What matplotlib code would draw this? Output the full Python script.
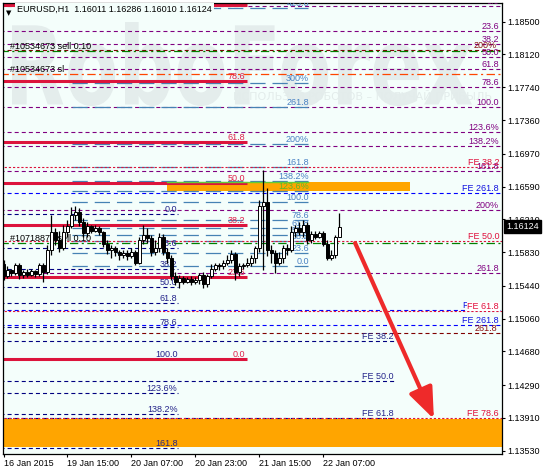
import matplotlib
matplotlib.use("Agg")
import matplotlib.pyplot as plt
import numpy as np
from matplotlib.patches import Rectangle, PathPatch
from matplotlib.textpath import TextPath
from matplotlib.font_manager import FontProperties
from matplotlib.transforms import Affine2D, IdentityTransform, blended_transform_factory

plt.rcParams['font.family'] = ['Liberation Sans', 'DejaVu Sans']
plt.rcParams['lines.scale_dashes'] = False

# EURUSD H1 candles (bar index 0 = 16 Jan 2015 ...)
opens = [1.1569, 1.1555, 1.1562, 1.1559, 1.1568, 1.1556, 1.1560, 1.1556, 1.1561, 1.1558,
         1.1568, 1.1560, 1.1585, 1.1606, 1.1597, 1.1588, 1.1606, 1.1613, 1.1626, 1.1629,
         1.1618, 1.1605, 1.1613, 1.1608, 1.1611, 1.1606, 1.1592, 1.1585, 1.1588, 1.1583,
         1.1580, 1.1582, 1.1578, 1.1583, 1.1571, 1.1597, 1.1603, 1.1599, 1.1583, 1.1588,
         1.1601, 1.1583, 1.1576, 1.1555, 1.1549, 1.1553, 1.1549, 1.1552, 1.1548, 1.1551,
         1.1556, 1.1546, 1.1555, 1.1564, 1.1568, 1.1567, 1.1571, 1.1574, 1.1581, 1.1560,
         1.1567, 1.1568, 1.1571, 1.1576, 1.1588, 1.1637, 1.1641, 1.1585, 1.1582, 1.1571,
         1.1576, 1.1588, 1.1585, 1.1606, 1.1611, 1.1606, 1.1614, 1.1597, 1.1604, 1.1601,
         1.1605, 1.1593, 1.1576, 1.1580, 1.16011]
highs = [1.1574, 1.1567, 1.1564, 1.1571, 1.1570, 1.1562, 1.1563, 1.1564, 1.1562, 1.1571,
         1.1571, 1.1591, 1.1626, 1.1611, 1.1608, 1.1614, 1.1620, 1.1635, 1.1637, 1.1634,
         1.1622, 1.1618, 1.1615, 1.1614, 1.1613, 1.1608, 1.1597, 1.1591, 1.1590, 1.1585,
         1.1585, 1.1585, 1.1588, 1.1585, 1.1601, 1.1614, 1.1611, 1.1603, 1.1597, 1.1605,
         1.1604, 1.1588, 1.1580, 1.1560, 1.1556, 1.1555, 1.1554, 1.1555, 1.1554, 1.1559,
         1.1560, 1.1558, 1.1569, 1.1571, 1.1571, 1.1574, 1.1580, 1.1585, 1.1583, 1.1571,
         1.1571, 1.1576, 1.1580, 1.1590, 1.1643, 1.1678, 1.1657, 1.1591, 1.1585, 1.1583,
         1.1591, 1.1592, 1.1613, 1.1615, 1.1618, 1.1620, 1.1618, 1.1608, 1.1607, 1.1608,
         1.1607, 1.1597, 1.1585, 1.1603, 1.16286]
lows = [1.1551, 1.1553, 1.1555, 1.1556, 1.1552, 1.1553, 1.1554, 1.1555, 1.1554, 1.1555,
        1.1549, 1.1558, 1.1580, 1.1591, 1.1583, 1.1585, 1.1601, 1.1611, 1.1620, 1.1613,
        1.1601, 1.1601, 1.1605, 1.1606, 1.1603, 1.1589, 1.1581, 1.1576, 1.1578, 1.1574,
        1.1576, 1.1574, 1.1576, 1.1568, 1.1569, 1.1592, 1.1594, 1.1578, 1.1580, 1.1583,
        1.1580, 1.1571, 1.1551, 1.1545, 1.1541, 1.1546, 1.1547, 1.1545, 1.1546, 1.1546,
        1.1541, 1.1543, 1.1553, 1.1561, 1.1562, 1.1563, 1.1568, 1.1571, 1.1551, 1.1555,
        1.1564, 1.1566, 1.1567, 1.1571, 1.1583, 1.1562, 1.1578, 1.1571, 1.1559, 1.1568,
        1.1571, 1.1580, 1.1583, 1.1601, 1.1603, 1.1601, 1.1593, 1.1594, 1.1598, 1.1599,
        1.1590, 1.1574, 1.1574, 1.1576, 1.16010]
closes = [1.1555, 1.1562, 1.1559, 1.1568, 1.1556, 1.1560, 1.1556, 1.1561, 1.1558, 1.1568,
          1.1560, 1.1585, 1.1606, 1.1597, 1.1588, 1.1606, 1.1613, 1.1626, 1.1629, 1.1618,
          1.1605, 1.1613, 1.1608, 1.1611, 1.1606, 1.1592, 1.1585, 1.1588, 1.1583, 1.1580,
          1.1582, 1.1578, 1.1583, 1.1571, 1.1597, 1.1603, 1.1599, 1.1583, 1.1588, 1.1601,
          1.1583, 1.1576, 1.1555, 1.1549, 1.1553, 1.1549, 1.1552, 1.1548, 1.1551, 1.1556,
          1.1546, 1.1555, 1.1564, 1.1568, 1.1567, 1.1571, 1.1574, 1.1581, 1.1560, 1.1567,
          1.1568, 1.1571, 1.1576, 1.1588, 1.1637, 1.1641, 1.1585, 1.1582, 1.1571, 1.1576,
          1.1588, 1.1585, 1.1606, 1.1611, 1.1606, 1.1614, 1.1597, 1.1604, 1.1601, 1.1605,
          1.1593, 1.1576, 1.1580, 1.16011, 1.16124]

tick_bars = [0, 16, 32, 48, 64, 80]
tick_times = ["16 Jan 2015", "19 Jan 15:00", "20 Jan 07:00", "20 Jan 23:00",
              "21 Jan 15:00", "22 Jan 07:00"]
price_ticks = [1.18500, 1.18120, 1.17740, 1.17360, 1.16970, 1.16590, 1.16210,
               1.15830, 1.15440, 1.15060, 1.14680, 1.14290, 1.13910, 1.13530]

# Fibonacci objects: level prices and their labels
purple_prices = [1.18682, 1.18392, 1.18241, 1.18091, 1.17952, 1.17743, 1.17511,
                 1.17222, 1.17060, 1.16770, 1.16318, 1.15588]
purple_names = ["0.0", "23.6", "38.2", "50.0", "61.8", "78.6", "100.0",
                "123.6%", "138.2%", "161.8", "200%", "261.8"]
steel_prices = [1.15670, 1.15820, 1.15959, 1.16029, 1.16110, 1.16202, 1.16411,
                1.16538, 1.16654, 1.16816, 1.17083, 1.17511, 1.17790, 1.18659]
steel_names = ["0.0", "23.6", "38.2", "50.0", "61.8", "78.6", "100.0",
               "", "138.2%", "161.8", "200%", "261.8", "300%", "423.6"]
red_prices = [1.14592, 1.15542, 1.16145, 1.16631, 1.17106, 1.17813, 1.18693]
red_names = ["0.0", "23.6", "38.2", "50.0", "61.8", "78.6", "100.0"]
navy_prices = [1.16272, 1.15878, 1.15635, 1.15426, 1.15241, 1.14963, 1.14592,
               1.14198, 1.13955, 1.13561]
navy_names = ["0.0", "23.6", "38.2", "50.0", "61.8", "78.6", "100.0",
              "123.6%", "138.2%", "161.8"]
fe_red_prices = [1.16816, 1.15959, 1.15148, 1.13909]
fe_red_names = ["FE 38.2", "FE 50.0", "FE 61.8", "FE 78.6"]
fe_navy_prices = [1.14800, 1.14337, 1.13909]
fe_navy_names = ["FE 38.2", "FE 50.0", "FE 61.8"]
fe_blue_prices = [1.16515, 1.15160, 1.14986]
fe_blue_names = ["FE 261.8", "FE 200.0", "FE 261.8"]
maroon_prices = [1.18172, 1.14893]
maroon_names = ["200%", "261.8"]
green_price = 1.16643
green_name = "123.6%"

orders = [("#10534673 sell 0.10", 1.18160, '#008000'),
          ("#10534673 sl", 1.17894, '#FF4500'),
          ("#10718875 sell 0.10", 1.15936, '#008000')]

zone_upper = (1.16538, 1.16643)
zone_lower = (1.13573, 1.13897)
arrow_from = (87.9, 1.15936)
arrow_to = (107.6, 1.13897)
last_price = 1.16124

BG = '#F4FEFB'
FS = 6.5

fig = plt.figure(figsize=(5.44, 4.72), dpi=100, facecolor='white')
ax = fig.add_axes([3 / 544, 18 / 472, 499 / 544, 451 / 472])
ax.set_facecolor(BG)

# watermark
fp = FontProperties(family='DejaVu Sans', weight='bold')
tp = TextPath((0, 0), "RoboForex", size=100, prop=fp)
ext = tp.get_extents()
wm = (Affine2D().translate(-ext.x0, -ext.y0)
      .scale(460 / ext.width, 84 / ext.height).translate(12, 472 - 106))
ax.add_patch(PathPatch(tp, transform=wm + IdentityTransform(), facecolor='#E4EDEC',
                       edgecolor='none', zorder=0.3))
ax.text(0.46, 0.785, "ИСПОЛЬЗУЙ РОБОТОВ – ПОЛУЧАЙ ПРИБЫЛЬ", transform=ax.transAxes,
        color='#E3ECEB', fontsize=8, family=['DejaVu Sans'], zorder=0.3)

# orange zones
ax.add_patch(Rectangle((40.9, zone_upper[0]), 101.6 - 40.9, zone_upper[1] - zone_upper[0],
                       facecolor='#FFA500', edgecolor='none', zorder=1))
ax.add_patch(Rectangle((-1, zone_lower[0]), 130, zone_lower[1] - zone_lower[0],
                       facecolor='#FFA500', edgecolor='none', zorder=1))


def levels(prices, names, x0, x1, color, ls, lw, lx, tcolor=None, ha='right', z=2):
    for p, n in zip(prices, names):
        ax.plot([x0, x1], [p, p], color=color, ls=ls, lw=lw, zorder=z,
                solid_capstyle='butt')
        if n:
            ax.text(lx, p, n, color=tcolor or color, ha=ha, va='bottom', fontsize=FS,
                    clip_on=True, zorder=3)


dash = (0, (2.9, 2.2))
levels(purple_prices, purple_names, -1, 130, '#800080', dash, 0.8, 123.9)
levels(maroon_prices, maroon_names, -1, 130, '#800000', dash, 0.8, 123.3, '#8B1010')
levels(fe_blue_prices[:1] + fe_blue_prices[2:], fe_blue_names[:1] + fe_blue_names[2:],
       -1, 130, '#0000FF', dash, 0.8, 123.9, '#1010E0')
ax.text(123.9, fe_blue_prices[1], fe_blue_names[1], color='#1010E0', ha='right',
        va='bottom', fontsize=FS, zorder=3)
ax.plot([-1, 130], [fe_blue_prices[1]] * 2, color='#0000FF', ls=dash, lw=0.8, zorder=2)
levels(fe_navy_prices, fe_navy_names, -1, 97.9, '#000080', dash, 0.8, 97.6, '#24248A')
levels(navy_prices, navy_names, -1, 43.6, '#000080', dash, 0.8, 43.5, '#24248A')
for p, n in zip(fe_red_prices, fe_red_names):
    ax.plot([-1, 130], [p, p], color='#DC143C', ls=(0, (1.6, 1.4)), lw=0.8, zorder=2.1)
    ax.text(123.9, p, n, color='#E0103C', ha='right', va='bottom', fontsize=FS, zorder=3.2,
            bbox=dict(facecolor='white', edgecolor='none', pad=0.3) if n == "FE 61.8" else None)
levels(steel_prices, steel_names, 17.1, 76.2, '#4682B4', (0, (11, 5)), 0.9, 76.4, '#4A82C4')
levels(red_prices, red_names, -1, 60.9, '#DC143C', '-', 2.2, 60.4, '#E0204A')
ax.plot([40.9, 76.2], [green_price] * 2, color='#66CC33', lw=1.0, zorder=2.2)
ax.text(76.4, green_price, green_name, color='#5CB82A', ha='right', va='top',
        fontsize=FS, zorder=3)

for name, p, col in orders:
    ax.plot([-1, 130], [p, p], color=col, ls=(0, (6, 2.5, 1.5, 2.5)), lw=0.9, zorder=2)
    ax.text(1.6, p, name, color='black', ha='left', va='bottom', fontsize=FS, zorder=3)

# candles
idx = np.arange(len(opens))
o = np.array(opens)
c = np.array(closes)
ax.vlines(idx, lows, highs, color='black', lw=0.9, zorder=5)
ax.bar(idx, np.maximum(np.abs(c - o), 0.00002), bottom=np.minimum(o, c), width=0.7,
       color=np.where(c >= o, 'white', 'black'), edgecolor='black', linewidth=0.7, zorder=6)

# forecast arrow
ax.annotate("", xy=arrow_to, xytext=arrow_from, zorder=7,
            arrowprops=dict(arrowstyle='-|>,head_length=1.9,head_width=0.75',
                            color='#EE2A2A', lw=3, shrinkA=0, shrinkB=0))

# header
ax.text(0.006, 0.985, "▼", transform=ax.transAxes, fontsize=5, va='top', ha='left',
        family=['DejaVu Sans'], zorder=8)
ax.text(0.029, 0.996, "EURUSD,H1  1.16011 1.16286 1.16010 1.16124", transform=ax.transAxes,
        fontsize=FS, va='top', ha='left', zorder=8,
        bbox=dict(facecolor=BG, edgecolor='none', pad=1.6))

# current price box
ax.text(1.0 + 4 / 499, last_price, f"{last_price:.5f}",
        transform=blended_transform_factory(ax.transAxes, ax.transData),
        color='white', fontsize=FS, ha='left', va='center', clip_on=False, zorder=9,
        bbox=dict(facecolor='black', edgecolor='black', pad=1.4))

ax.set_xlim(-0.125, 124.625)
ax.set_ylim(1.13492, 1.18716)
ax.yaxis.tick_right()
ax.set_yticks(price_ticks)
ax.set_yticklabels([f"{v:.5f}" for v in price_ticks])
ax.set_xticks(tick_bars)
ax.set_xticklabels(tick_times)
for lab in ax.get_xticklabels():
    lab.set_ha('left')
ax.tick_params(axis='both', direction='out', length=2.4, width=0.8, labelsize=FS, pad=1.5)
for s in ax.spines.values():
    s.set_color('black')
    s.set_linewidth(0.9)

fig.savefig("out.png", dpi=100, facecolor='white')
